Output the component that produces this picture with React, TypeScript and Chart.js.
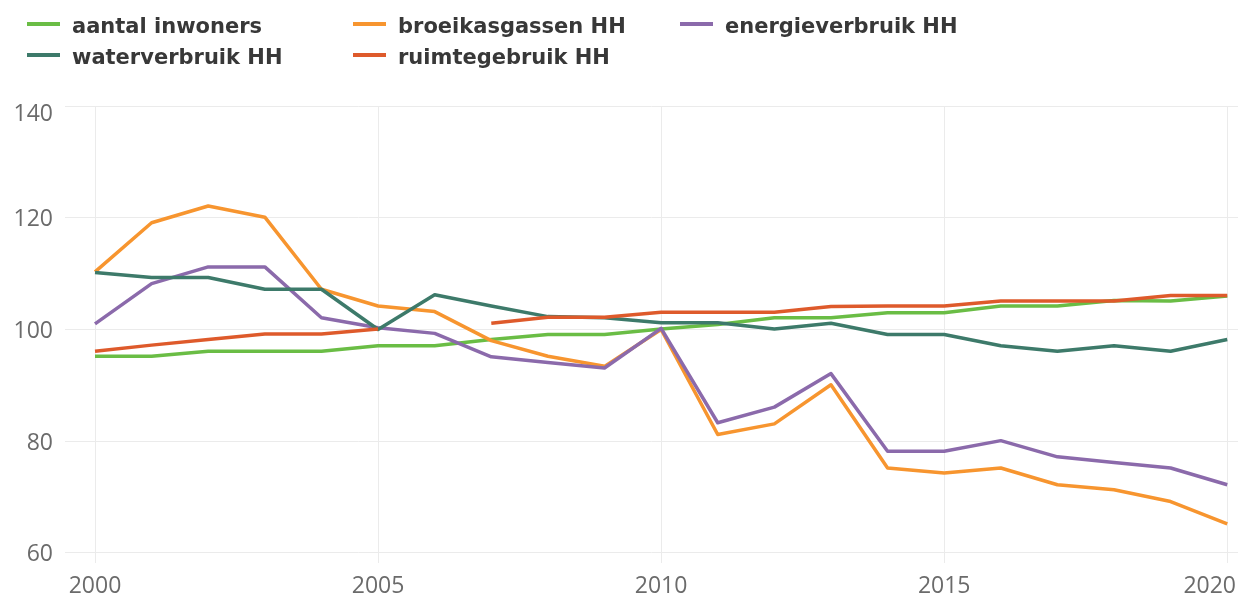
import React, { useEffect, useRef } from "react";
import { Chart, registerables } from "chart.js";

Chart.register(...registerables);

const years = [2000, 2001, 2002, 2003, 2004, 2005, 2006, 2007, 2008, 2009, 2010, 2011, 2012, 2013, 2014, 2015, 2016, 2017, 2018, 2019, 2020];

const seriesNames = ["aantal inwoners", "broeikasgassen HH", "energieverbruik HH", "waterverbruik HH", "ruimtegebruik HH"];
const seriesColors = ["#6abd45", "#f7952f", "#8b6aab", "#3d7a6a", "#de5a2b"];

const inwoners = [95.2, 95.2, 96.1, 96.1, 96.1, 97.1, 97.1, 98.2, 99.1, 99.1, 100.1, 100.9, 102.1, 102.1, 103.0, 103.0, 104.2, 104.2, 105.2, 105.1, 106.0];
const broeikasgassen = [110.3, 119.1, 122.1, 120.1, 107.2, 104.2, 103.2, 98.0, 95.2, 93.4, 100.0, 81.2, 83.1, 90.1, 75.2, 74.3, 75.2, 72.2, 71.3, 69.2, 65.2];
const energieverbruik = [101.0, 108.2, 111.2, 111.2, 102.1, 100.3, 99.3, 95.1, 94.1, 93.1, 100.2, 83.3, 86.1, 92.1, 78.2, 78.2, 80.1, 77.2, 76.2, 75.2, 72.2];
const waterverbruik = [110.2, 109.3, 109.3, 107.2, 107.2, 100.0, 106.2, 104.2, 102.3, 102.1, 101.2, 101.2, 100.1, 101.1, 99.1, 99.1, 97.1, 96.1, 97.1, 96.1, 98.2];
const ruimtegebruik = [96.1, 97.2, 98.2, 99.2, 99.2, 100.1, null, 101.1, 102.2, 102.2, 103.1, 103.1, 103.1, 104.1, 104.2, 104.2, 105.1, 105.1, 105.1, 106.1, 106.1];

const xTicks = [2000, 2005, 2010, 2015, 2020];
const yTicks = [60, 80, 100, 120, 140];

const allSeries = [inwoners, broeikasgassen, energieverbruik, waterverbruik, ruimtegebruik];

const W = 1246;
const H = 596;

export default function App() {
  const ref = useRef<HTMLCanvasElement>(null);

  useEffect(() => {
    const canvas = ref.current;
    if (!canvas) return;

    const labelPlugin = {
      id: "customLabels",
      afterDraw(chart: any) {
        const ctx = chart.ctx;
        ctx.save();
        // x tick labels
        ctx.font = '23px "Open Sans"';
        ctx.fillStyle = "#6b6b6b";
        ctx.textAlign = "left";
        ctx.textBaseline = "middle";
        const xs = chart.scales.x;
        xTicks.forEach((t) => {
          const txt = String(t);
          const w = ctx.measureText(txt).width;
          const px = xs.getPixelForValue(t);
          let left = px - w / 2;
          if (left + w > W - 10) left = W - 10 - w;
          ctx.fillText(txt, left, 586);
        });
        // y tick labels
        const ys = chart.scales.y;
        ctx.textAlign = "right";
        yTicks.forEach((t) => {
          const py = ys.getPixelForValue(t);
          let cy = py + 2;
          if (cy < chart.chartArea.top + 8) cy = chart.chartArea.top + 8;
          ctx.fillText(String(t), 53, cy);
        });
        // legend
        const colX = [27, 353, 680];
        const rowY = [24, 55];
        ctx.font = 'bold 21px "DejaVu Sans"';
        ctx.textAlign = "left";
        ctx.textBaseline = "alphabetic";
        chart.data.datasets.forEach((ds: any, i: number) => {
          const cx = colX[i % 3];
          const cy = rowY[Math.floor(i / 3)];
          ctx.strokeStyle = ds.borderColor;
          ctx.lineWidth = 4;
          ctx.lineCap = "butt";
          ctx.beginPath();
          ctx.moveTo(cx, cy);
          ctx.lineTo(cx + 33, cy);
          ctx.stroke();
          ctx.fillStyle = "#383838";
          ctx.fillText(ds.label, cx + 45, cy + 9);
        });
        ctx.restore();
      },
    };

    const chart = new Chart(canvas, {
      type: "line",
      data: {
        datasets: allSeries.map((vals, i) => ({
          label: seriesNames[i],
          data: years.map((yr, j) => ({ x: yr, y: vals[j] })),
          borderColor: seriesColors[i],
          backgroundColor: seriesColors[i],
          borderWidth: 3.5,
          pointRadius: 0,
          pointHoverRadius: 0,
          tension: 0,
          fill: false,
          spanGaps: false,
          borderJoinStyle: "round",
          order: allSeries.length - i,
        })),
      },
      options: {
        responsive: false,
        animation: false,
        devicePixelRatio: 1,
        layout: { padding: { left: 0, right: 8, top: 106, bottom: 0 } },
        plugins: {
          legend: { display: false },
          tooltip: { enabled: false },
          title: { display: false },
        },
        scales: {
          x: {
            type: "linear",
            min: 1999.47,
            max: 2020.19,
            ticks: { display: false, stepSize: 5, includeBounds: false },
            grid: { color: "#ebebeb", lineWidth: 1, drawTicks: false },
            border: { display: false },
            afterFit: (s: any) => {
              s.height = 33;
            },
          },
          y: {
            type: "linear",
            min: 58.2,
            max: 140,
            ticks: { display: false, stepSize: 20, includeBounds: false },
            grid: { color: "#ebebeb", lineWidth: 1, drawTicks: false },
            border: { display: false },
            afterFit: (s: any) => {
              s.width = 65;
            },
          },
        },
      },
      plugins: [labelPlugin],
    } as any);

    return () => chart.destroy();
  }, []);

  return (
    <div style={{ position: "absolute", left: 0, top: 0, width: W, height: H, background: "#ffffff" }}>
      <canvas ref={ref} width={W} height={H} style={{ width: W, height: H, display: "block" }} />
    </div>
  );
}
